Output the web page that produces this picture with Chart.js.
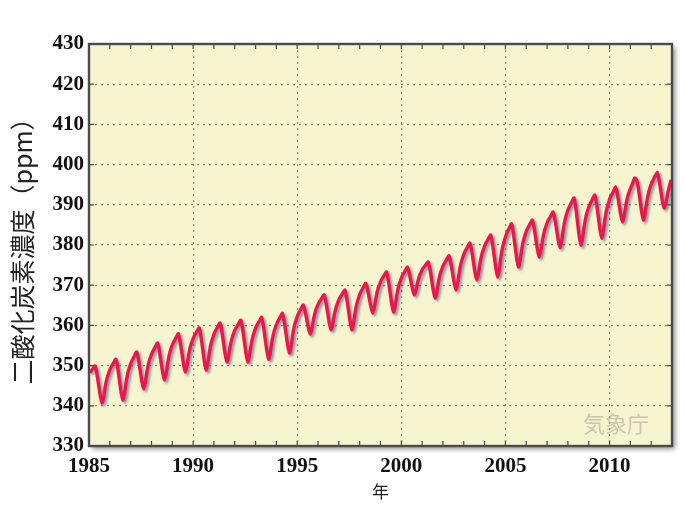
<!DOCTYPE html>
<html>
<head>
<meta charset="utf-8">
<script src="https://cdn.jsdelivr.net/npm/chart.js@4.4.1/dist/chart.umd.min.js"></script>
<style>
  html, body { margin: 0; padding: 0; background: #fff; }
  #wrap { width: 685px; height: 507px; }
</style>
</head>
<body>
<div id="wrap"><canvas id="co2Chart" width="685" height="507"></canvas></div>
<script>
// monthly CO2 (ppm), Jan 1985 .. Dec 2012, one row per year
const startYear = 1985;
const co2 = [
  348.2, 348.8, 349.4, 349.9, 348.1, 345.3, 342.5, 340.7, 342.3, 345.1, 347.0, 348.3, // 1985
  349.4, 350.2, 350.9, 351.6, 349.6, 346.5, 343.4, 341.4, 343.2, 346.2, 348.4, 349.8, // 1986
  351.0, 351.8, 352.7, 353.4, 351.6, 348.8, 346.0, 344.2, 345.9, 348.8, 350.8, 352.2, // 1987
  353.3, 354.1, 354.9, 355.6, 353.8, 351.0, 348.2, 346.4, 348.1, 351.0, 353.1, 354.5, // 1988
  355.6, 356.4, 357.2, 357.9, 356.0, 353.2, 350.3, 348.4, 350.1, 352.8, 354.8, 356.1, // 1989
  357.2, 358.0, 358.7, 359.4, 357.3, 354.2, 351.0, 348.9, 350.7, 353.6, 355.7, 357.1, // 1990
  358.3, 359.1, 359.9, 360.6, 358.7, 355.8, 352.8, 350.9, 352.5, 355.1, 356.9, 358.2, // 1991
  359.2, 359.9, 360.7, 361.3, 359.2, 356.1, 353.0, 350.9, 352.6, 355.3, 357.3, 358.7, // 1992
  359.8, 360.6, 361.3, 362.0, 359.9, 356.8, 353.7, 351.6, 353.3, 356.2, 358.2, 359.6, // 1993
  360.7, 361.5, 362.3, 363.0, 361.0, 358.1, 355.1, 353.1, 354.9, 357.9, 360.1, 361.5, // 1994
  362.7, 363.5, 364.4, 365.1, 363.6, 361.5, 359.3, 357.8, 359.3, 361.7, 363.5, 364.7, // 1995
  365.6, 366.3, 367.0, 367.6, 365.9, 363.3, 360.6, 358.9, 360.4, 362.9, 364.6, 365.8, // 1996
  366.8, 367.5, 368.2, 368.8, 366.8, 363.9, 360.9, 358.9, 360.6, 363.5, 365.6, 367.0, // 1997
  368.2, 369.0, 369.8, 370.5, 369.0, 366.8, 364.6, 363.1, 364.6, 367.2, 369.0, 370.2, // 1998
  371.3, 372.0, 372.7, 373.3, 371.3, 368.3, 365.3, 363.3, 365.0, 367.8, 369.8, 371.1, // 1999
  372.3, 373.0, 373.8, 374.5, 373.1, 371.1, 369.0, 367.6, 368.8, 370.9, 372.4, 373.3, // 2000
  374.2, 374.7, 375.3, 375.8, 374.0, 371.3, 368.6, 366.8, 368.4, 371.0, 372.9, 374.2, // 2001
  375.2, 375.9, 376.7, 377.3, 375.6, 373.1, 370.5, 368.8, 370.6, 373.5, 375.6, 377.0, // 2002
  378.2, 379.0, 379.8, 380.5, 378.7, 375.9, 373.1, 371.3, 373.0, 375.8, 377.8, 379.1, // 2003
  380.3, 381.0, 381.8, 382.5, 380.4, 377.3, 374.1, 372.0, 374.0, 377.3, 379.7, 381.3, // 2004
  382.6, 383.6, 384.5, 385.3, 383.1, 379.9, 376.7, 374.5, 376.3, 379.2, 381.3, 382.7, // 2005
  383.9, 384.7, 385.5, 386.2, 384.4, 381.6, 378.8, 377.0, 378.7, 381.5, 383.5, 384.8, // 2006
  386.0, 386.7, 387.5, 388.2, 386.4, 383.8, 381.1, 379.3, 381.2, 384.3, 386.5, 388.0, // 2007
  389.2, 390.1, 390.9, 391.7, 389.4, 385.9, 382.3, 380.0, 381.9, 385.0, 387.2, 388.7, // 2008
  389.9, 390.8, 391.7, 392.4, 390.3, 387.1, 383.8, 381.7, 383.6, 386.8, 389.1, 390.6, // 2009
  391.9, 392.7, 393.6, 394.4, 392.7, 390.1, 387.4, 385.7, 387.4, 390.1, 392.1, 393.4, // 2010
  394.5, 395.6, 396.7, 396.3, 394.4, 391.4, 388.3, 386.2, 388.0, 390.9, 393.0, 394.5, // 2011
  395.6, 396.5, 397.3, 398.0, 396.2, 393.6, 390.8, 389.2, 390.5, 392.8, 394.6, 396.2  // 2012
];

// axis ranges and labels
const xRange = [1985, 2013];
const xLabelEvery = 5;
const yRange = [330, 430];
const yStep = 10;
const yTitle = '二酸化炭素濃度（ppm）';
const xTitle = '年';
const watermark = '気象庁';

const plotBg = '#f6f5cf';
const frameColor = '#4b4b4b';
const gridColor = '#8a8a7a';
const lineColor = '#e8194a';

// month points placed at the middle of each month
const points = co2.map((v, i) => ({ x: startYear + (i + 0.5) / 12, y: v }));

// plot background with a soft drop shadow, frame, inner ticks and watermark
const framePlugin = {
  id: 'frame',
  beforeDraw(chart) {
    const { ctx, chartArea: a } = chart;
    ctx.save();
    ctx.shadowColor = 'rgba(0,0,0,0.45)';
    ctx.shadowOffsetX = 3;
    ctx.shadowOffsetY = 3;
    ctx.shadowBlur = 5;
    ctx.fillStyle = plotBg;
    ctx.fillRect(a.left, a.top, a.right - a.left, a.bottom - a.top);
    ctx.restore();
  },
  beforeDatasetsDraw(chart) {
    const { ctx } = chart;
    ctx.save();
    // watermark sits under the line
    const a = chart.chartArea;
    ctx.font = '22px "Noto Sans CJK JP", sans-serif';
    ctx.fillStyle = 'rgba(160,160,150,0.55)';
    ctx.textAlign = 'center';
    ctx.textBaseline = 'middle';
    ctx.fillText(watermark, a.right - 56, a.bottom - 22);
    ctx.shadowColor = 'rgba(60,70,120,0.55)';
    ctx.shadowOffsetX = 2;
    ctx.shadowOffsetY = 2;
    ctx.shadowBlur = 2.5;
  },
  afterDatasetsDraw(chart) {
    chart.ctx.restore();
  },
  afterDraw(chart) {
    const { ctx, chartArea: a, scales } = chart;
    ctx.save();
    ctx.strokeStyle = frameColor;
    ctx.lineWidth = 1.2;
    // inner tick marks
    ctx.beginPath();
    scales.x.ticks.forEach(t => {
      const px = scales.x.getPixelForValue(t.value);
      ctx.moveTo(px, a.bottom); ctx.lineTo(px, a.bottom - 5);
      ctx.moveTo(px, a.top); ctx.lineTo(px, a.top + 5);
    });
    scales.y.ticks.forEach(t => {
      const py = scales.y.getPixelForValue(t.value);
      ctx.moveTo(a.left, py); ctx.lineTo(a.left + 5, py);
      ctx.moveTo(a.right, py); ctx.lineTo(a.right - 5, py);
    });
    ctx.stroke();
    ctx.lineWidth = 2.4;
    ctx.strokeRect(a.left, a.top, a.right - a.left, a.bottom - a.top);
    ctx.restore();
  }
};

new Chart(document.getElementById('co2Chart'), {
  type: 'line',
  data: {
    datasets: [{
      data: points,
      borderColor: lineColor,
      borderWidth: 3.4,
      pointRadius: 0,
      tension: 0.2,
      fill: false
    }]
  },
  options: {
    responsive: false,
    animation: false,
    events: [],
    layout: { padding: { left: 0, top: 44, right: 13, bottom: 0 } },
    plugins: { legend: { display: false }, tooltip: { enabled: false } },
    scales: {
      x: {
        type: 'linear',
        min: xRange[0],
        max: xRange[1],
        afterFit: s => { s.height = 61; },
        ticks: {
          stepSize: 1,
          autoSkip: false,
          maxRotation: 0,
          padding: 8,
          color: '#111',
          font: { family: '"Liberation Serif", serif', size: 21, weight: 'bold' },
          callback: v => (v % xLabelEvery === 0 && v < xRange[1]) ? String(v) : ''
        },
        grid: {
          drawTicks: false,
          lineWidth: 1.2,
          color: c => (c.tick && c.tick.value % xLabelEvery === 0 && c.tick.value > xRange[0] && c.tick.value < xRange[1]) ? gridColor : 'transparent'
        },
        border: { display: false, dash: [2, 4] },
        title: {
          display: true,
          text: xTitle,
          color: '#222',
          font: { family: '"Noto Sans CJK JP", sans-serif', size: 17 },
          padding: { top: 0, bottom: 5 }
        }
      },
      y: {
        min: yRange[0],
        max: yRange[1],
        afterFit: s => { s.width = 89; },
        ticks: {
          stepSize: yStep,
          padding: 5,
          color: '#111',
          font: { family: '"Liberation Serif", serif', size: 21, weight: 'bold' }
        },
        grid: {
          drawTicks: false,
          lineWidth: 1.2,
          color: c => (c.tick && c.tick.value > yRange[0] && c.tick.value < yRange[1]) ? gridColor : 'transparent'
        },
        border: { display: false, dash: [2, 4] },
        title: {
          display: true,
          text: yTitle,
          color: '#222',
          font: { family: '"Noto Sans CJK JP", sans-serif', size: 25 },
          padding: { top: 7, bottom: 0 }
        }
      }
    }
  },
  plugins: [framePlugin]
});
</script>
</body>
</html>
